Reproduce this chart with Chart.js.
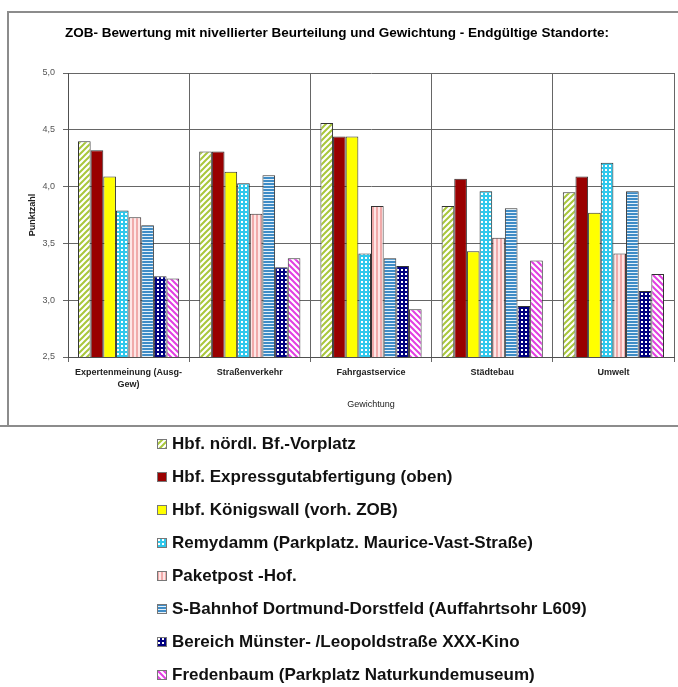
<!DOCTYPE html>
<html>
<head>
<meta charset="utf-8">
<script src="https://cdn.jsdelivr.net/npm/chart.js@4/dist/chart.umd.min.js"></script>
<style>
  html, body { margin: 0; padding: 0; background: #fff; }
  #wrap { position: relative; width: 678px; height: 687px; overflow: hidden; font-family: "Liberation Sans", Arial, sans-serif; }
  #chartBox { position: absolute; left: 0; top: 0; width: 678px; height: 425px; }
  .frameTop { position: absolute; left: 7px; top: 11px; width: 671px; height: 0; border-top: 2px solid #8c8c8c; }
  .frameLeft { position: absolute; left: 7px; top: 11px; width: 0; height: 414px; border-left: 2px solid #8c8c8c; }
  .frameBottom { position: absolute; left: 0; top: 425px; width: 678px; height: 0; border-top: 2px solid #8c8c8c; }
  #legend { position: absolute; left: 157px; top: 427px; }
  .item { display: flex; align-items: center; height: 33px; font-weight: bold; font-size: 17px; color: #111; white-space: nowrap; }
  .item canvas { width: 10px; height: 10px; margin-right: 5px; }
</style>
</head>
<body>
<div id="wrap">
  <div id="chartBox"><canvas id="chart" width="678" height="425"></canvas></div>
  <div class="frameTop"></div>
  <div class="frameLeft"></div>
  <div class="frameBottom"></div>
  <div id="legend"></div>
</div>
<script>
// Bewertungskategorien (x-Achse)
const categories = [['Expertenmeinung (Ausg-', 'Gew)'], 'Straßenverkehr', 'Fahrgastservice', 'Städtebau', 'Umwelt'];

// Standorte
const seriesNames = [
  'Hbf. nördl. Bf.-Vorplatz',
  'Hbf. Expressgutabfertigung (oben)',
  'Hbf. Königswall (vorh. ZOB)',
  'Remydamm (Parkplatz. Maurice-Vast-Straße)',
  'Paketpost -Hof.',
  'S-Bahnhof Dortmund-Dorstfeld (Auffahrtsohr L609)',
  'Bereich Münster- /Leopoldstraße XXX-Kino',
  'Fredenbaum (Parkplatz Naturkundemuseum)'
];

// Punktzahlen je Standort
const hbfVorplatz      = [4.40, 4.31, 4.56, 3.83, 3.95];
const hbfExpressgut    = [4.32, 4.31, 4.44, 4.07, 4.09];
const hbfKoenigswall   = [4.09, 4.13, 4.44, 3.43, 3.77];
const remydamm         = [3.79, 4.03, 3.41, 3.96, 4.21];
const paketpostHof     = [3.73, 3.76, 3.83, 3.55, 3.41];
const sBahnDorstfeld   = [3.66, 4.10, 3.37, 3.81, 3.96];
const muensterLeopold  = [3.21, 3.29, 3.30, 2.95, 3.08];
const fredenbaum       = [3.19, 3.37, 2.92, 3.35, 3.23];

// y-Achse
const yMin = 2.5, yMax = 5.0, yStep = 0.5;

const seriesValues = [hbfVorplatz, hbfExpressgut, hbfKoenigswall, remydamm,
                      paketpostHof, sBahnDorstfeld, muensterLeopold, fredenbaum];

// Füllmuster der Balken
function makePattern(kind) {
  const c = document.createElement('canvas');
  const g = c.getContext('2d');
  if (kind === 'up' || kind === 'down') {
    const s = 6;
    c.width = s; c.height = s;
    g.fillStyle = '#ffffff'; g.fillRect(0, 0, s, s);
    g.strokeStyle = kind === 'up' ? '#a9c73c' : '#e23ee2';
    g.lineWidth = 2;
    g.beginPath();
    if (kind === 'up') {
      g.moveTo(-1, s + 1); g.lineTo(s + 1, -1);
      g.moveTo(-4, 4); g.lineTo(4, -4);
      g.moveTo(2, s + 4); g.lineTo(s + 4, 2);
    } else {
      g.moveTo(-1, -1); g.lineTo(s + 1, s + 1);
      g.moveTo(-4, 2); g.lineTo(4, s + 4);
      g.moveTo(2, -4); g.lineTo(s + 4, 4);
    }
    g.stroke();
  } else if (kind === 'cyanDots') {
    c.width = 4; c.height = 4;
    g.fillStyle = '#2fc8ec'; g.fillRect(0, 0, 4, 4);
    g.fillStyle = '#ffffff'; g.fillRect(1, 1, 2, 2);
  } else if (kind === 'navyDots') {
    c.width = 4; c.height = 4;
    g.fillStyle = '#000080'; g.fillRect(0, 0, 4, 4);
    g.fillStyle = '#ffffff'; g.fillRect(1, 1, 2, 2);
  } else if (kind === 'vert') {
    c.width = 4; c.height = 1;
    g.fillStyle = '#fde6e6'; g.fillRect(0, 0, 4, 1);
    g.fillStyle = '#f0aaaa'; g.fillRect(0, 0, 2, 1);
  } else if (kind === 'horiz') {
    c.width = 1; c.height = 3;
    g.fillStyle = '#3f8cc6'; g.fillRect(0, 0, 1, 3);
    g.fillStyle = '#e4f1fa'; g.fillRect(0, 2, 1, 1);
  }
  return g.createPattern(c, 'repeat');
}

function fillFor(kind) {
  if (kind === 'solidRed') return '#990000';
  if (kind === 'solidYellow') return '#ffff00';
  return makePattern(kind);
}

const seriesFills = ['up', 'solidRed', 'solidYellow', 'cyanDots', 'vert', 'horiz', 'navyDots', 'down'];

const fontFamily = '"Liberation Sans", Arial, sans-serif';
const fmt = v => v.toFixed(1).replace('.', ',');

const datasets = seriesNames.map((name, i) => ({
  label: name,
  data: seriesValues[i],
  backgroundColor: fillFor(seriesFills[i]),
  borderColor: '#333333',
  borderWidth: 1,
  barPercentage: 1.0,
  categoryPercentage: 0.835
}));

new Chart(document.getElementById('chart'), {
  type: 'bar',
  data: { labels: categories, datasets },
  options: {
    responsive: false,
    animation: false,
    events: [],
    layout: { padding: { top: 0, left: 0, right: 4, bottom: 0 } },
    plugins: {
      legend: { display: false },
      tooltip: { enabled: false },
      title: {
        display: true,
        text: 'ZOB- Bewertung mit nivellierter Beurteilung und Gewichtung - Endgültige Standorte:',
        color: '#000',
        font: { family: fontFamily, size: 13.5, weight: 'bold', lineHeight: 1.2 },
        padding: { top: 25, bottom: 31.8 }
      }
    },
    scales: {
      x: {
        grid: { color: '#666666', lineWidth: 1, tickLength: 5, offset: true },
        border: { color: '#505050', width: 1 },
        ticks: {
          color: '#222',
          padding: 4,
          maxRotation: 0,
          autoSkip: false,
          font: { family: fontFamily, size: 9, weight: 'bold', lineHeight: 1.4 }
        },
        title: {
          display: true,
          text: 'Gewichtung',
          color: '#222',
          font: { family: fontFamily, size: 9, lineHeight: 1.2 },
          padding: { top: 0, bottom: 14.6 }
        },
        afterFit: s => { s.height = 68; }
      },
      y: {
        min: yMin,
        max: yMax,
        grid: { color: '#666666', lineWidth: 1, tickLength: 5 },
        border: { color: '#505050', width: 1 },
        ticks: {
          stepSize: yStep,
          color: '#555',
          padding: 8,
          font: { family: fontFamily, size: 9 },
          callback: v => fmt(v)
        },
        title: {
          display: true,
          text: 'Punktzahl',
          color: '#222',
          font: { family: fontFamily, size: 9, weight: 'bold', lineHeight: 1.2 },
          padding: { top: 27.6, bottom: 0 }
        },
        afterFit: s => { s.width = 68; }
      }
    }
  }
});

// Legende unter dem Diagramm
const legend = document.getElementById('legend');
seriesNames.forEach((name, i) => {
  const row = document.createElement('div');
  row.className = 'item';
  const sw = document.createElement('canvas');
  sw.width = 10; sw.height = 10;
  const g = sw.getContext('2d');
  g.fillStyle = fillFor(seriesFills[i]);
  g.fillRect(0, 0, 10, 10);
  g.strokeStyle = '#777';
  g.lineWidth = 1;
  g.strokeRect(0.5, 0.5, 9, 9);
  const txt = document.createElement('span');
  txt.textContent = name;
  row.appendChild(sw);
  row.appendChild(txt);
  legend.appendChild(row);
});
</script>
</body>
</html>
